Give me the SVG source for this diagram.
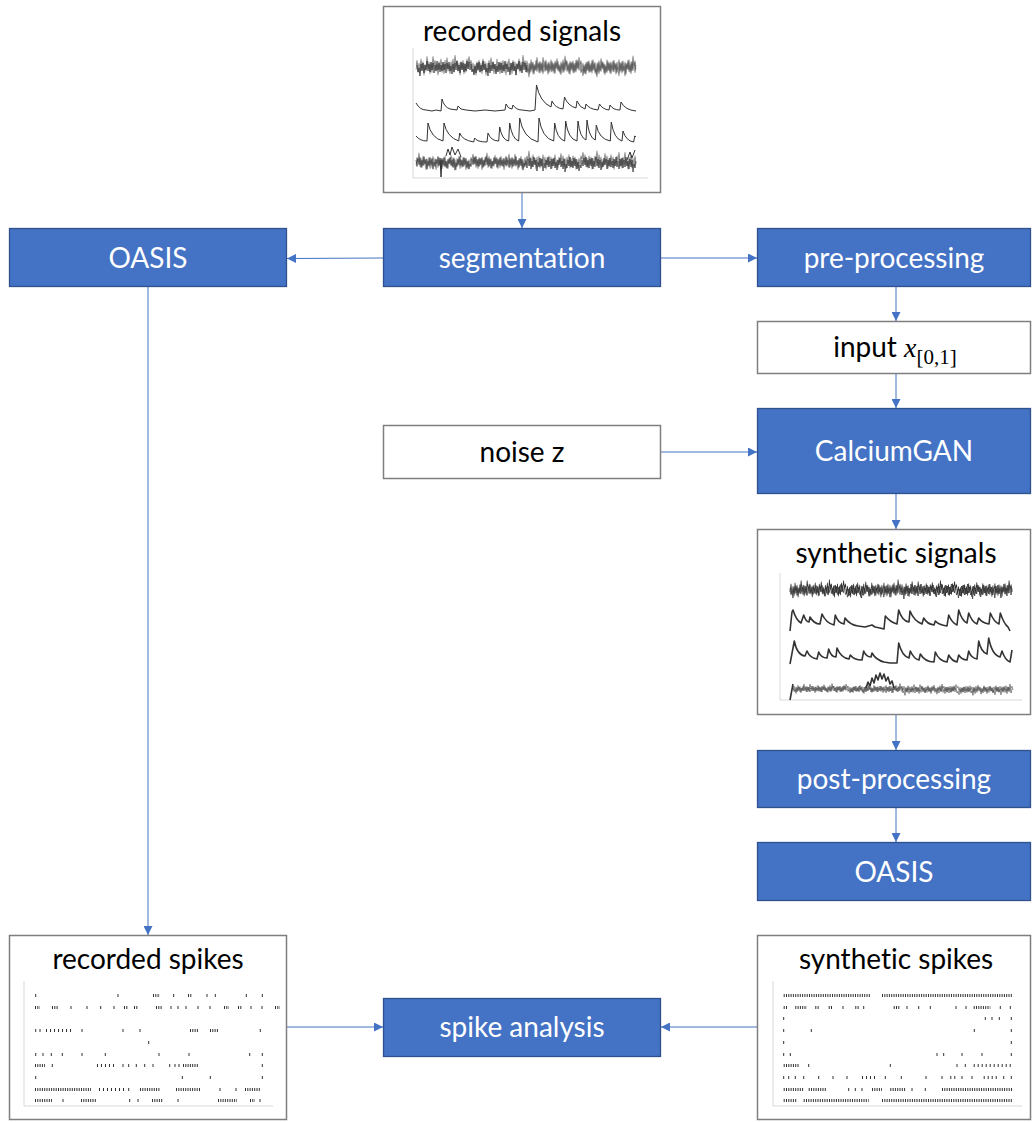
<svg xmlns="http://www.w3.org/2000/svg" width="1032" height="1122" viewBox="0 0 1032 1122">
<style>
.b{fill:#4472C4;stroke:#2F528F;stroke-width:1.3}
.w{fill:#fff;stroke:#7f7f7f;stroke-width:1.5}
.tw{font-family:Lato,"Open Sans",sans-serif;font-size:28px;fill:#fff;text-anchor:middle;font-variant-ligatures:none}
.tb{font-family:Lato,"Open Sans",sans-serif;font-size:28px;fill:#000;text-anchor:middle;font-variant-ligatures:none}
.c{stroke:#4472C4;stroke-width:1;fill:none;marker-end:url(#ah)}
.ax{stroke:#d9d9d9;stroke-width:1;fill:none}
.tr{fill:none;stroke:#333;stroke-width:1;stroke-linejoin:round}
.ts{fill:none;stroke:#333;stroke-width:1.6;stroke-linejoin:round}
.tk{stroke:#333;stroke-width:1;fill:none}
.dn{stroke:#333;stroke-width:3;stroke-dasharray:1 1.3}
.md{stroke:#333;stroke-width:3;stroke-dasharray:1 3}
</style>
<defs>
<marker id="ah" viewBox="0 0 10 10" refX="10" refY="5" markerWidth="10" markerHeight="9" markerUnits="userSpaceOnUse" orient="auto"><path d="M0,0 L10,5 L0,10 z" fill="#4472C4"/></marker>
<path id="nz" d="M0,2 L2,-5 4,4 6,-3 8,5 10,-6 12,2 14,-4 16,6 18,-2 20,3 22,-8 24,1 26,-4 28,5 30,-3 32,4 34,-8 36,0 38,-5 40,3 42,-2 44,6 46,-4 48,2 50,-6 52,4 54,-3 56,5 58,-5 60,1 62,-7 64,3 66,-2 68,5 70,-4 72,2 74,-6 76,4 78,-9 80,-1 82,-5 84,3 86,-3 88,6 90,-4 92,2 94,-5 96,5 98,-3 100,4 102,-6 104,1 106,-8 108,-2 110,-5 112,3 114,-3 116,5 118,-2 120,6 122,-4 124,3 126,-5 128,4 130,-3 132,5 134,-6 136,2 138,-4 140,6 142,-3 144,4 146,-5 148,3 150,-7 152,1 154,-4 156,5 158,-2 160,4 162,-6 164,3 166,-3 168,5 170,-4 172,2 174,-5 176,4 178,-3 180,6 182,-4 184,2 186,-6 188,4 190,-3 192,5 194,-5 196,3 198,-4 200,6 202,-3 204,2 206,-6 208,4 210,-4 212,3 214,-9 216,-1 218,-5 220,2"/>
</defs>

<g id="connectors">
<line class="c" x1="522" y1="193" x2="522" y2="228"/>
<line class="c" x1="383" y1="258" x2="287" y2="258.5"/>
<line class="c" x1="661" y1="258" x2="757" y2="258"/>
<line class="c" x1="896" y1="287" x2="896" y2="321"/>
<line class="c" x1="896" y1="374" x2="896" y2="408"/>
<line class="c" x1="661" y1="452" x2="757" y2="452"/>
<line class="c" x1="896" y1="494" x2="896" y2="529"/>
<line class="c" x1="896" y1="715" x2="896" y2="750"/>
<line class="c" x1="896" y1="808" x2="896" y2="842"/>
<line class="c" x1="148" y1="287" x2="148" y2="935"/>
<line class="c" x1="287" y1="1027" x2="383" y2="1027"/>
<line class="c" x1="757" y1="1027" x2="661" y2="1027"/>
</g>

<g id="recorded-signals">
<rect class="w" x="383.5" y="6.5" width="277" height="186"/>
<text class="tb" x="522" y="41">recorded signals</text>
<path class="ax" d="M413,48 V178 H648"/>
<use href="#nz" class="tr" transform="translate(416,67) scale(0.5,1.3)"/>
<use href="#nz" class="tr" transform="translate(526,67) scale(0.5,1.2)"/>
<use href="#nz" class="tr" transform="translate(527,67) scale(-0.5,-1)"/>
<use href="#nz" class="tr" transform="translate(636,67) scale(-0.5,-1.1)"/>
<path class="tr" d="M416,103 Q420,110 426,110 L432,111 L436,110 L441,111 L442,99 Q444,107 450,109 L457,110 L458,106 Q460,110 466,110 L475,111 L485,110 L495,111 L505,110 L506,104 Q508,109 512,109 L513,105 Q516,110 522,110 L530,111 L535,110 L536.5,85 Q540,102 551,107 L552,101 Q555,108 563,109 L564.5,97 Q568,106 576,108 L577,101 Q580,108 585,109 L586,104 Q589,109 598,110 L599.5,104 Q602,109 609,110 L610,105 Q613,110 620,110 L621,102 Q625,110 636,111"/>
<path class="tr" d="M416,136 Q420,141 427,141 L428,123 Q431,138 443,141 L444,123 Q447,137 458.7,141 L459.7,133 Q462,140 473.7,142 L474.7,138 Q477,142 487,142 L488,133 Q491,141 498.7,141 L499.7,127 Q502,140 508.7,141 L509.7,123 Q512,139 518.7,141 L519.7,118 Q523,138 538,142 L539,118 Q542,138 553.7,141 L554.7,123 Q557,139 564.7,141 L565.7,121 Q568,139 577,141 L578,121 Q580,138 586,140 L587,120 Q589,138 595.3,140 L596.3,125 Q599,139 610.3,141 L611.3,122 Q614,139 622,141 L623,131 Q626,141 633.7,142 L634.7,136 L636,137"/>
<use href="#nz" class="tr" transform="translate(526,163) scale(-0.5,1.1)"/>
<use href="#nz" class="tr" transform="translate(636,162) scale(-0.5,1.2)"/>
<use href="#nz" class="tr" transform="translate(416,162) scale(0.5,-0.9)"/>
<use href="#nz" class="tr" transform="translate(526,163) scale(0.5,-1)"/>
<path class="tr" d="M440,158 L441,177 L442,160 M446,156 L448,149 L450,155 L452,147 L455,155 L458,149 L461,157 M627,160 L630,152 L632,158 L635,150"/>
</g>

<g id="segmentation">
<rect class="b" x="383.5" y="228.5" width="277" height="58"/>
<text class="tw" x="522" y="268">segmentation</text>
</g>

<g id="oasis-left">
<rect class="b" x="9.5" y="228.5" width="277" height="58"/>
<text class="tw" x="148" y="268">OASIS</text>
</g>

<g id="pre-processing">
<rect class="b" x="757.5" y="228.5" width="273" height="58"/>
<text class="tw" x="894" y="268">pre-processing</text>
</g>

<g id="input">
<rect class="w" x="757.5" y="321.5" width="273" height="52"/>
<text class="tb" x="895" y="357">input <tspan font-family="Liberation Serif" font-style="italic" font-size="28">x</tspan><tspan font-family="Liberation Serif" font-size="21" dy="7">[0,1]</tspan></text>
</g>

<g id="noise">
<rect class="w" x="383.5" y="425.5" width="277" height="53"/>
<text class="tb" x="522" y="462">noise z</text>
</g>

<g id="calciumgan">
<rect class="b" x="757.5" y="408.5" width="273" height="85"/>
<text class="tw" x="894" y="461">CalciumGAN</text>
</g>

<g id="synthetic-signals">
<rect class="w" x="757.5" y="529.5" width="273" height="185"/>
<text class="tb" x="896" y="563">synthetic signals</text>
<path class="ax" d="M780,573 V700 H1022"/>
<use href="#nz" class="ts" transform="translate(790,590) scale(0.505,1.1)"/>
<use href="#nz" class="ts" transform="translate(901,590) scale(0.505,1)"/>
<use href="#nz" class="tr" transform="translate(901,590) scale(-0.505,-0.9)"/>
<use href="#nz" class="tr" transform="translate(1012,590) scale(-0.505,-1)"/>
<path class="ts" d="M790,631 L792,612 L793,610 Q796,620 801,623 L803.7,615 Q806,622 809,622 L810,617 Q814,624 820,624 L822,614 Q826,623 834,625 L835.3,615 Q838,623 844,624 L845,618 Q850,625 858,626 L865,627 L872,625 L875,627 L880,628 L884,629 L885.3,616 Q890,622 897,624 L898.7,610 Q902,621 909,622 L910,611 Q914,621 922,624 L923.7,618 Q927,624 934,625 L935.3,621 Q939,625 947,626 L948.7,615 Q952,623 957,625 L958.7,610 Q962,621 967,623 L968.7,613 Q972,622 977,624 L978.7,618 Q982,623 989,624 L990.3,613 Q994,622 999,624 L1000.3,613 Q1004,624 1008,627 L1010,631"/>
<path class="ts" d="M790,664 L793,648 L794.3,641 Q797,655 805,656 L807,651 Q810,658 817,659 L818.7,652 Q821,658 827,658 L828.7,649 Q831,657 836,657 L837,648 Q841,658 849,659 L850.3,655 Q854,660 862,660 L863.7,651 Q866,657 871,657 L872,653 Q876,660 884,662 L890,663 L897,663 L898.7,643 Q902,656 909,658 L910.3,651 Q914,659 919,660 L920.3,654 Q925,662 934,662 L935.3,652 Q939,661 947,662 L948.7,655 Q952,661 957,662 L958.7,655 Q962,660 967,660 L968.7,651 Q971,658 977,659 L978.7,641 Q981,652 987,654 L988.7,638 Q992,655 1000,657 L1002,651 Q1005,660 1010,662 L1012,650"/>
<use href="#nz" class="tr" transform="translate(793,689) scale(0.5,0.6)"/>
<use href="#nz" class="tr" transform="translate(903,689) scale(0.5,0.55)"/>
<use href="#nz" class="tr" transform="translate(903,689) scale(-0.5,-0.5)"/>
<use href="#nz" class="tr" transform="translate(1012,690) scale(-0.5,-0.6)"/>
<path class="ts" d="M790,700 L793,684 M866,688 L868,682 L870,686 L872,678 L874,683 L876,675 L878,680 L880,673 L882,679 L884,674 L886,681 L888,677 L890,684 L892,681 L894,688"/>
</g>

<g id="post-processing">
<rect class="b" x="757.5" y="750.5" width="273" height="57"/>
<text class="tw" x="894" y="789">post-processing</text>
</g>

<g id="oasis-right">
<rect class="b" x="757.5" y="842.5" width="273" height="58"/>
<text class="tw" x="894" y="882">OASIS</text>
</g>

<g id="recorded-spikes">
<rect class="w" x="9.5" y="935.5" width="277" height="184"/>
<text class="tb" x="148" y="969">recorded spikes</text>
<path class="ax" d="M24,981 V1106 H273"/>
<path class="tk" d="M35.7,994v3M118,994v3M173.7,994v3M207,994v3M215.3,994v3M246.3,994v3M262.3,994v3
M71,1006v3M87,1006v3M100.7,1006v3M114,1006v3M171,1006v3M178,1006v3M186,1006v3M198,1006v3M210,1006v3M251,1006v3M262,1006v3
M35.7,1029v3M40,1029v3M82,1029v3M123,1029v3M140,1029v3M260.3,1029v3
M148.7,1041v3
M35.7,1053v3M43,1053v3M51.3,1053v3M62.3,1053v3M82,1053v3M105.3,1053v3M159,1053v3M189,1053v3M249.7,1053v3M262.3,1053v3
M52.3,1064v3M123,1064v3M128.7,1064v3M136.3,1064v3M144.7,1064v3M153,1064v3M169.7,1064v3M175,1064v3M179,1064v3M262.3,1064v3
M35.7,1076v3M182.3,1076v3M210.3,1076v3M262.3,1076v3
M128.7,1088v3M220,1088v3M236,1088v3
M63,1099v3M129.7,1099v3M138,1099v3M178,1099v3M260,1099v3"/>
<path class="dn" d="M153,995.5H160M188,995.5H192
M35,1007.5H40M52,1007.5H58M124,1007.5H128M134,1007.5H138M156,1007.5H162M224,1007.5H229M238,1007.5H242M275,1007.5H280
M190,1030.5H198M210,1030.5H218
M35,1065.5H45M183,1065.5H198
M35,1089.5H91M140,1089.5H160M176,1089.5H201M245,1089.5H261
M35,1100.5H52M81,1100.5H96M152,1100.5H163M218,1100.5H237M250,1100.5H255"/>
<path class="md" d="M46,1030.5H71M97,1065.5H116M99,1089.5H125"/>
</g>

<g id="spike-analysis">
<rect class="b" x="383.5" y="998.5" width="277" height="58"/>
<text class="tw" x="522" y="1037">spike analysis</text>
</g>

<g id="synthetic-spikes">
<rect class="w" x="757.5" y="935.5" width="273" height="184"/>
<text class="tb" x="896" y="969">synthetic spikes</text>
<path class="ax" d="M773,981 V1106 H1022"/>
<path class="tk" d="M843,1006v3M863.7,1006v3M907,1006v3M918.7,1006v3M930.3,1006v3M956,1006v3M966,1006v3M1000.3,1006v3M1010.3,1006v3
M783.7,1017v3M985.3,1017v3M992,1017v3M999.3,1017v3M1011.3,1017v3
M783.7,1029v3M811.3,1029v3M974.3,1029v3M1011.3,1029v3
M783.7,1041v3M1011.3,1041v3
M783.7,1053v3M790.3,1053v3M937,1053v3M943.7,1053v3M962,1053v3M982,1053v3M1011.3,1053v3
M808.7,1064v3M890.3,1064v3M957,1064v3M965.3,1064v3
M783.7,1076v3M788.7,1076v3M795.3,1076v3M803.7,1076v3M818.7,1076v3M833,1076v3M847,1076v3M885.3,1076v3M901.3,1076v3M926,1076v3M942,1076v3M962,1076v3M972,1076v3M1003.7,1076v3M1011.3,1076v3
M848.7,1088v3M855.3,1088v3M862,1088v3M912,1088v3M925.3,1088v3"/>
<path class="dn" d="M783.7,995.5H870.3M882,995.5H1012
M783.7,1007.5H787M795.3,1007.5H807M815.3,1007.5H818.7M828.7,1007.5H832M855.3,1007.5H858.7M893.7,1007.5H900.3M973.7,1007.5H990.3
M783.7,1065.5H798.7
M783.7,1089.5H803.7M808.7,1089.5H827M872,1089.5H882M890.3,1089.5H905.3M942,1089.5H1012
M783.7,1100.5H797M803.7,1100.5H868.7M882,1100.5H1012"/>
<path class="md" d="M973.7,1065.5H1012M862,1077.5H877M950.3,1077.5H955.3M983.7,1077.5H997"/>
</g>
</svg>
